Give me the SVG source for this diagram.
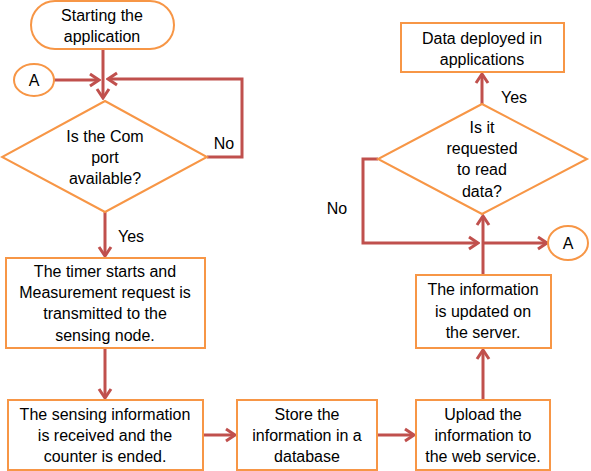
<svg xmlns="http://www.w3.org/2000/svg" width="591" height="471" viewBox="0 0 591 471">
<defs>
<style>
.n{fill:#fff;stroke:#F79646;stroke-width:2}
.c{fill:none;stroke:#C0504D;stroke-width:3}
text{font-family:"Liberation Sans",Arial,sans-serif;font-size:16px;fill:#000;text-anchor:middle}
</style>
<marker id="ah" markerUnits="userSpaceOnUse" viewBox="-12 -8 14 16" markerWidth="14" markerHeight="16" refX="0" refY="0" orient="auto">
<path d="M-9,-6 L0,0 L-9,6" fill="none" stroke="#C0504D" stroke-width="3" stroke-linejoin="miter"/>
</marker>
</defs>
<rect width="591" height="471" fill="#fff"/>
<g id="connectors">
<path class="c" d="M103,49 V98" marker-end="url(#ah)"/>
<path class="c" d="M53,80 H99" marker-end="url(#ah)"/>
<path class="c" d="M207,157 H242 V79 H108" marker-end="url(#ah)"/>
<path class="c" d="M105,212 V256" marker-end="url(#ah)"/>
<path class="c" d="M105,348 V398" marker-end="url(#ah)"/>
<path class="c" d="M203,435 H235" marker-end="url(#ah)"/>
<path class="c" d="M377,435 H414" marker-end="url(#ah)"/>
<path class="c" d="M483,400 V350" marker-end="url(#ah)"/>
<path class="c" d="M483,274 V216" marker-end="url(#ah)"/>
<path class="c" d="M378,159 H363 V243 H478" marker-end="url(#ah)"/>
<path class="c" d="M483,243 H547" marker-end="url(#ah)"/>
<path class="c" d="M482,104 V74" marker-end="url(#ah)"/>
</g>
<g id="start">
<rect class="n" x="31" y="1" width="143" height="48" rx="24"/>
<text x="102" y="21">Starting the</text>
<text x="102" y="42">application</text>
</g>
<g id="connA1">
<ellipse class="n" cx="34" cy="80" rx="20" ry="16"/>
<text x="34" y="86">A</text>
</g>
<g id="dec1">
<polygon class="n" points="105,101 207,157 105,212 2,157"/>
<text x="105" y="142">Is the Com</text>
<text x="105" y="163">port</text>
<text x="105" y="184">available?</text>
</g>
<text x="224" y="149">No</text>
<text x="131" y="242">Yes</text>
<g id="timer">
<rect class="n" x="6" y="258" width="199" height="90"/>
<text x="105" y="277">The timer starts and</text>
<text x="105" y="298">Measurement request is</text>
<text x="105" y="319">transmitted to the</text>
<text x="105" y="341">sensing node.</text>
</g>
<g id="received">
<rect class="n" x="8" y="400" width="195" height="70"/>
<text x="105" y="420">The sensing information</text>
<text x="105" y="441">is received and the</text>
<text x="105" y="462">counter is ended.</text>
</g>
<g id="store">
<rect class="n" x="237" y="400" width="140" height="70"/>
<text x="307" y="420">Store the</text>
<text x="307" y="441">information in a</text>
<text x="307" y="462">database</text>
</g>
<g id="upload">
<rect class="n" x="416" y="400" width="134" height="70"/>
<text x="483" y="420">Upload the</text>
<text x="483" y="441">information to</text>
<text x="483" y="462">the web service.</text>
</g>
<g id="updated">
<rect class="n" x="416" y="275" width="135" height="73"/>
<text x="483" y="295">The information</text>
<text x="483" y="317">is updated on</text>
<text x="483" y="338">the server.</text>
</g>
<g id="dec2">
<polygon class="n" points="482,104 587,159 482,214 378,159"/>
<text x="482" y="133">Is it</text>
<text x="482" y="154">requested</text>
<text x="482" y="175">to read</text>
<text x="482" y="197">data?</text>
</g>
<text x="337" y="214">No</text>
<text x="514" y="103">Yes</text>
<g id="connA2">
<ellipse class="n" cx="568" cy="243" rx="20" ry="17"/>
<text x="568" y="249">A</text>
</g>
<g id="deployed">
<rect class="n" x="401" y="23" width="163" height="49"/>
<text x="482" y="44">Data deployed in</text>
<text x="482" y="65">applications</text>
</g>
</svg>
